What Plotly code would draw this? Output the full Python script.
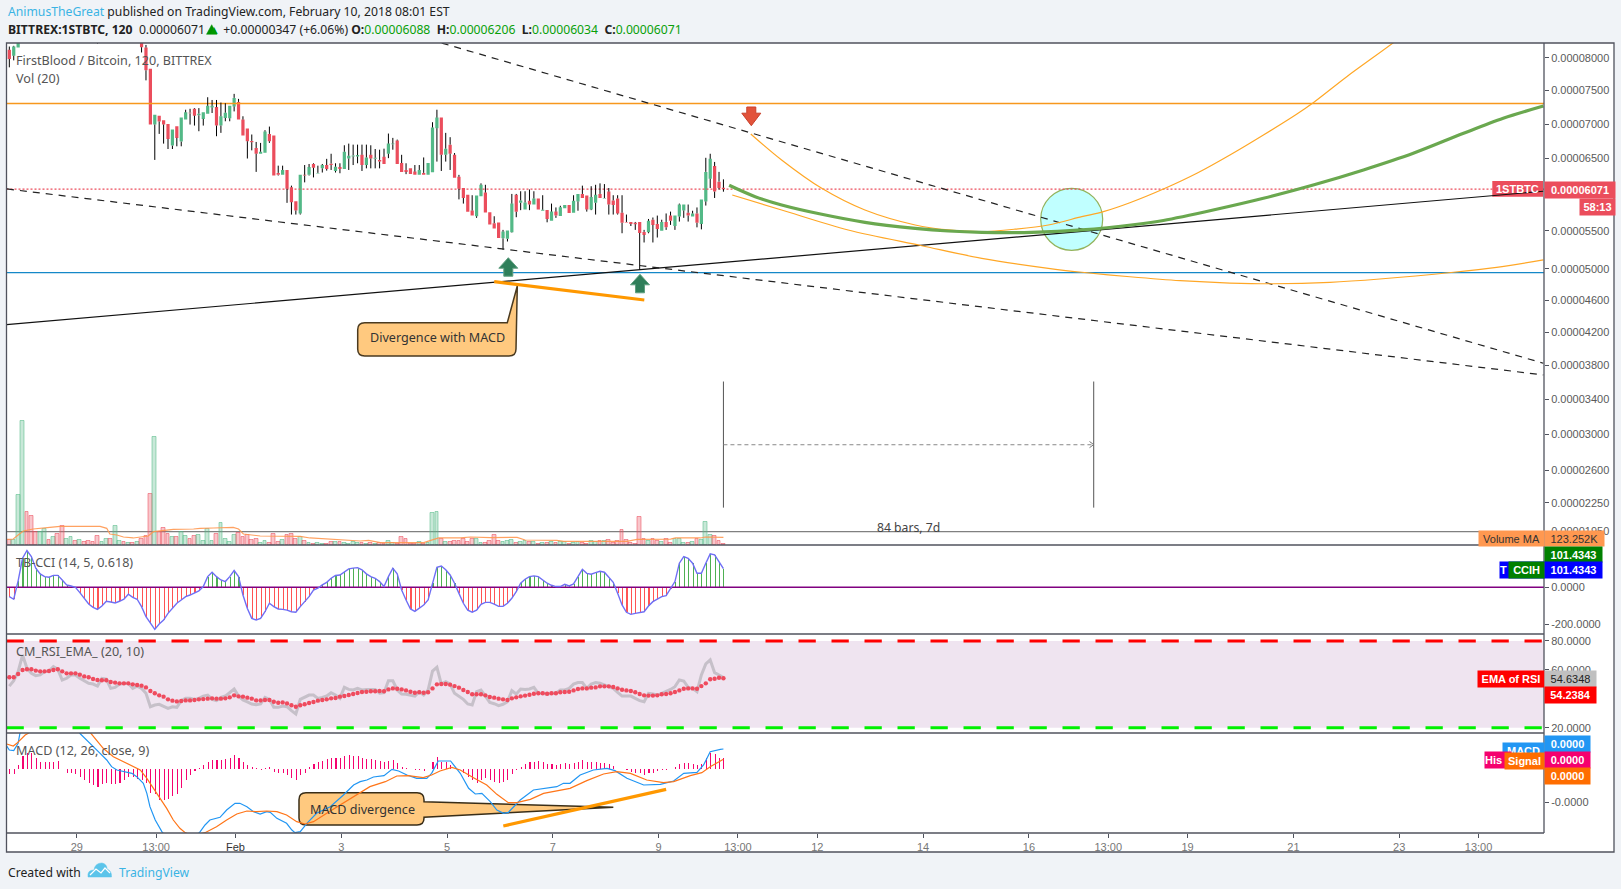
import plotly.graph_objects as go

W, H = 1621, 889

# ---------- price data, in units of 0.00000001 BTC ----------
opens = [8127,8035,8163,8280,9200,8950,8800,8750,8850,8950,
8880,8950,8870,8700,8760,8800,8720,8770,8660,8550,
8470,8320,8450,8520,8430,8650,8690,8600,8650,8540,
8600,8163,7835,6993,7124,7056,7002,6686,6968,6744,
7066,7168,7226,7129,7076,7153,7246,7251,6978,7090,
7085,7261,7329,7066,6934,6754,6652,6569,6584,6856,
6832,6297,6269,6338,6095,5903,5734,6269,6269,6423,
6288,6361,6408,6428,6324,6379,6352,6501,6530,6530,
6554,6408,6554,6496,6481,6525,6569,6705,6759,6437,
6338,6361,6315,6269,6297,6269,6306,6939,7095,6554,
6700,6554,6242,6085,5990,5775,5697,5970,6022,5752,
5603,5612,5400,5393,5482,5990,5880,5790,5908,5857,
5940,5772,5781,5635,5760,5700,5805,5850,5745,5899,
6003,5980,5790,5880,6003,5940,6035,5913,5940,5745,
5620,5620,5608,5620,5486,5482,5650,5593,5500,5620,
5706,5565,5693,5775,5745,5693,5735,5593,5899,6215,
6393,6174,6088]
highs = [8179,8190,8300,9300,9300,9050,8900,8900,9000,8980,
9000,8980,8900,8800,8850,8820,8800,8790,8680,8580,
8490,8500,8560,8540,8700,8720,8700,8680,8660,8620,
8620,8204,7835,7139,7124,7056,7002,6920,6968,7095,
7212,7226,7236,7236,7173,7399,7358,7358,7319,7309,
7270,7450,7374,7115,6934,6847,6739,6725,6910,6963,
6832,6399,6399,6338,6118,5903,6269,6408,6423,6433,
6399,6423,6496,6569,6433,6433,6691,6715,6700,6700,
6700,6700,6691,6637,6627,6642,6861,6798,6773,6554,
6433,6361,6408,6408,6516,6437,7027,7212,7095,6871,
6808,6579,6269,6085,5990,5985,5980,6150,6130,5752,
5697,5612,5513,5505,6003,6003,6040,6040,6065,6040,
5940,5985,5781,5870,5817,5840,5850,5850,5985,6003,
6118,5980,6110,6130,6150,6140,6085,5985,5985,5985,
5720,5620,5620,5620,5513,5660,5680,5706,5650,5735,
5760,5706,5870,5857,5857,5772,5817,5925,6511,6569,
6452,6311,6206]
lows = [7855,7963,8163,8250,8900,8750,8700,8700,8800,8850,
8850,8850,8650,8680,8740,8700,8690,8640,8520,8440,
8225,8300,8420,8400,8410,8620,8580,8590,8520,8530,
8086,7655,6993,6481,6856,6715,6637,6637,6676,6676,
7066,6993,6978,6895,6978,7153,7163,6822,6871,7041,
7041,7187,7066,6832,6501,6618,6311,6569,6584,6725,
6260,6260,6269,5880,5720,5720,5720,6164,6260,6233,
6288,6302,6329,6338,6302,6292,6352,6338,6408,6433,
6324,6361,6361,6361,6361,6423,6506,6627,6423,6311,
6279,6283,6269,6269,6269,6269,6306,6457,6324,6457,
6338,6229,5928,5870,5757,5706,5675,5970,5748,5585,
5530,5403,5249,5358,5477,5684,5780,5790,5780,5857,
5790,5772,5615,5635,5675,5700,5805,5740,5745,5772,
5947,5760,5780,5720,5947,5940,5720,5720,5720,5468,
5612,5565,5513,4985,5345,5468,5345,5411,5500,5513,
5580,5513,5625,5675,5625,5693,5547,5520,5843,6085,
5947,6065,6034]
closes = [7984,8179,8280,9200,8950,8800,8750,8850,8950,8880,
8950,8870,8700,8760,8800,8720,8770,8660,8550,8470,
8320,8450,8520,8430,8650,8690,8600,8650,8540,8600,
8168,7809,6993,7139,7037,6993,6783,6920,6798,7095,
7173,7158,7124,7153,7173,7270,7270,6978,7115,7168,
7270,7389,7066,6832,6749,6735,6569,6598,6890,6749,
6260,6269,6338,6075,5889,5775,6269,6260,6379,6370,
6297,6408,6352,6408,6384,6352,6598,6540,6545,6550,
6408,6516,6501,6511,6457,6423,6715,6715,6423,6311,
6311,6283,6269,6338,6269,6437,6949,7095,6554,6642,
6569,6229,6075,5947,5757,5706,5980,6130,5748,5585,
5530,5403,5490,5505,5870,5757,5913,5885,5857,5940,
5790,5786,5660,5760,5706,5820,5850,5740,5908,6003,
5947,5790,5960,5990,5947,5947,5857,5850,5735,5608,
5612,5593,5590,5472,5446,5635,5580,5525,5620,5547,
5635,5706,5857,5857,5706,5735,5608,5925,6311,6496,
6035,6085,6071]

# volume, thousands
volumes = [80,75,804,1994,531,466,214,204,257,80,
129,177,300,96,129,64,75,43,64,48,
145,43,96,96,306,64,48,32,32,48,
96,145,820,1737,209,273,177,129,129,209,
145,96,145,161,64,257,64,177,348,96,
48,161,193,129,161,80,96,27,64,32,
177,48,80,161,177,96,134,64,32,16,
32,16,16,48,48,48,32,16,48,32,
27,16,27,16,38,21,64,32,16,129,
91,16,16,54,21,38,509,525,96,43,
43,64,64,96,48,96,96,32,27,64,
161,64,43,64,80,32,48,64,48,48,
16,32,27,48,32,48,48,16,32,48,
32,21,64,48,64,64,80,38,64,241,
80,32,21,450,91,64,91,64,43,91,
32,96,96,32,32,48,96,80,370,161,
145,64,21]
vol_ma_bar = [-0.6,0.9,2.0,3.2,5.4,7.7,9.2,11.5,20.6,22.1,22.8,24.4,25.9,28.1,30.4,31.5,32.7,34.2,35.7,37.2,41.8,43.3,46.3,50.8,52.0,53.1,56.9,62.9,66.0,68.2,72.8,75.8,79.6,81.5,84.2,94,95.9,97.4,102.3,104.6,109.1,115.2,117,124.2,125.8,140.1,142.4,150,151.1,156.8,157.9,161.3,162]
vol_ma_val = [91,96,161,225,257,268,284,300,300,268,177,161,129,113,129,145,214,225,236,252,257,268,273,284,257,177,145,145,139,113,91,75,64,75,38,38,80,113,113,129,118,123,80,75,59,59,91,96,113,113,129,123,123]

cci_vals = [-51,-65,35,158,200,167,104,73,58,55,65,65,40,13,7,0,-29,-60,-91,-109,
-120,-102,-76,-80,-85,-76,-65,-38,-55,-65,-105,-160,-196,-229,-200,-178,-142,-115,-87,-69,
-51,-42,-29,-20,4,58,82,58,40,31,58,91,58,-42,-115,-169,-178,-169,-133,-87,
-105,-118,-120,-124,-133,-136,-105,-78,-51,-15,-5,13,27,49,64,67,85,100,104,107,
95,73,58,49,31,4,58,104,73,-15,-69,-118,-131,-115,-96,-69,22,109,116,95,
67,22,-33,-87,-124,-135,-124,-93,-82,-82,-91,-104,-104,-87,-60,-24,22,44,58,62,
58,40,22,11,4,4,16,7,18,58,98,76,71,80,87,82,53,27,-33,-96,
-136,-147,-142,-136,-133,-102,-78,-64,-51,-45,-9,31,131,167,158,131,76,76,131,182,
176,140,101]

rsi_vals = [48.8,52.5,58.8,70.3,61.1,57.6,56.0,56.5,58.8,59.2,62.2,60.4,53.0,54.2,56.5,56.5,54.2,52.5,50.7,50.2,
48.8,54.2,53.7,47.2,47.9,50.2,50.2,50.7,47.2,48.8,47.2,43.8,34.5,35.7,36.2,35.0,33.4,34.5,34.1,38.7,
40.3,40.3,39.6,40.3,41.9,42.6,39.6,38.7,41.0,41.9,44.5,46.8,41.9,39.2,37.8,36.4,35.9,36.4,41.0,39.6,
34.1,34.1,35.0,34.5,31.8,29.5,39.6,41.0,42.6,42.6,40.3,41.0,41.9,44.2,42.6,40.3,47.9,46.5,46.1,47.2,
46.1,46.5,46.5,46.5,43.8,44.2,52.5,52.5,46.1,43.3,43.1,42.4,41.9,44.9,42.6,46.1,59.2,61.8,50.2,51.9,
50.2,43.8,41.9,39.6,36.4,35.7,44.9,46.1,41.9,37.5,36.6,35.2,36.2,38.0,45.6,43.3,46.8,46.5,46.8,47.9,
43.8,43.8,43.1,43.8,43.8,46.1,46.1,47.2,50.2,51.2,51.2,47.2,50.2,51.2,50.7,49.5,48.4,47.2,44.5,41.9,
41.9,41.9,40.3,38.7,38.0,43.8,43.3,42.6,43.8,44.9,46.5,48.4,53.0,52.3,47.9,47.2,44.9,56.5,64.1,66.9,
58.1,56.5,54.63]
rsi_ema = [54.9,54.9,57.2,59.9,60.4,60.4,59.5,59.0,59.0,59.2,59.9,60.4,59.0,57.6,57.6,57.6,56.7,55.5,54.9,53.7,
53.0,52.8,52.8,51.6,51.2,50.7,50.7,50.7,50.0,49.5,49.1,47.9,45.4,43.8,42.4,41.5,39.6,38.7,38.2,38.5,
38.9,38.9,39.2,39.6,39.8,40.1,40.3,40.1,40.1,40.3,41.0,42.4,41.7,41.5,40.8,40.1,38.9,38.9,39.2,39.2,
38.0,37.3,37.5,36.8,35.5,34.5,35.5,36.2,37.1,37.8,38.7,39.2,39.6,40.3,40.5,41.5,41.9,42.6,43.3,44.0,
44.7,44.9,45.2,45.2,45.4,45.2,46.5,47.2,47.0,46.5,45.8,44.9,44.2,44.5,44.2,44.5,47.2,50.0,50.2,50.2,
49.8,48.8,47.7,46.1,44.7,43.1,43.1,43.1,42.4,41.2,40.8,40.1,39.6,39.2,40.3,41.0,41.7,42.2,42.8,43.5,
43.8,43.8,43.5,43.8,43.8,44.5,44.7,44.9,45.8,46.8,47.2,47.2,47.7,47.9,48.6,48.6,48.6,48.2,47.2,46.3,
45.8,45.4,44.5,43.3,42.4,42.2,42.2,42.4,43.1,43.3,43.8,44.7,45.8,47.0,47.2,47.2,47.0,48.8,50.7,53.5,
53.9,54.6,54.24]

# MACD pane, in units of 0.000001
macd_hist = [-.15,-.15,.12,.40,.47,.47,.32,.20,.22,.22,.22,.24,0,-.11,-.11,-.15,-.23,-.33,-.43,-.48,
-.53,-.46,-.43,-.45,-.45,-.41,-.33,-.23,-.25,-.30,-.33,-.43,-.73,-.76,-.93,-.93,-.91,-.81,-.75,-.56,
-.33,-.18,-.06,.03,.11,.22,.27,.27,.27,.30,.34,.42,.32,.22,.12,.07,.02,-.03,.02,.05,
-.10,-.13,-.13,-.18,-.28,-.33,-.18,-.13,.07,.15,.21,.24,.29,.32,.32,.34,.39,.42,.40,.40,
.32,.30,.30,.27,.24,.20,.24,.27,.17,.07,.03,-.01,-.03,-.03,-.05,0,.20,.35,.22,.22,
.12,0,0,-.13,-.23,-.33,-.43,-.33,-.28,-.33,-.38,-.41,-.38,-.33,-.15,-.03,.07,.14,.20,.22,
.25,.22,.15,.15,.12,.15,.17,.15,.17,.22,.26,.22,.21,.21,.19,.17,.15,.09,0,-.01,
-.03,-.09,-.11,-.13,-.18,-.13,-.11,-.06,-.04,-.03,.01,.05,.15,.17,.17,.16,.12,.15,.32,.47,
.45,.32,.32]
macd_bar = [-.6,0,1,2,2.4,5,10,15,16,17.2,18.2,19.4,20.6,22.1,23.2,24.4,26.6,27.8,28.9,30.4,31.2,31.9,33.1,34.6,36,39,41,43.3,44.4,45.5,47.8,49.3,51.2,52.3,53.9,55.4,56.9,58.4,59.2,60.7,62.9,64.1,64.8,66,67.5,69.7,72.8,75.8,78.1,79.6,81.1,82.6,85,86.8,88.3,90.2,92.4,94.7,95.8,97.3,100.1,102.3,104.2,105.7,107.2,109.1,110.6,112.1,113.2,115.9,118.9,121.2,124.2,125.7,127.2,129.5,132.5,135.6,137.4,140.1,143.9,147.7,150.7,153,156,157.5,159,161.3,162]
macd_val = [.69,.57,.55,.77,1.07,1.8,2.0,1.5,1.07,.92,.77,.62,.47,.27,.07,-.03,-.08,-.13,-.23,-.43,-.73,-1.13,-1.53,-1.88,-2.1,-2.4,-2.2,-1.88,-1.68,-1.53,-1.45,-1.23,-1.03,-1.03,-1.13,-1.28,-1.35,-1.28,-1.3,-1.48,-1.63,-1.83,-1.91,-1.88,-1.63,-1.33,-1.13,-.78,-.48,-.38,-.33,-.24,-.2,-.01,-.06,-.18,-.28,-.28,-.13,.24,.24,-.13,-.58,-.75,-.73,-.98,-1.23,-1.33,-1.3,-.93,-.63,-.58,-.53,-.43,-.43,-.18,-.03,.02,-.05,-.28,-.48,-.46,-.36,-.13,-.1,.12,.52,.59,.6]
signal_bar = [-.6,.9,1.7,2.4,3.6,4.3,8,12,16,18.5,19.8,21.3,23.6,25.9,28.1,29.7,31.2,32.7,34.2,35.7,37.2,38.7,39.9,41.5,44.4,47,49.3,51.6,53.9,56.1,58.4,60.7,62.9,65.2,67.1,69,72,75,77.3,79.6,81.8,85.3,87.9,90.5,93.9,95.8,97.7,100.4,102.3,105.3,108.3,110.6,113.2,115.1,118.2,121.2,127.2,131,134.8,137.8,140.9,144.6,148.4,150.7,154.5,157.1,159,161.3,162]
signal_val = [.75,.69,.77,.87,1.02,1.07,1.5,1.7,1.4,1.07,.87,.62,.37,.22,.09,-.03,-.28,-.58,-.88,-1.18,-1.53,-1.78,-1.91,-2.0,-1.91,-1.73,-1.53,-1.35,-1.26,-1.28,-1.26,-1.28,-1.38,-1.58,-1.65,-1.58,-1.33,-1.08,-.88,-.71,-.53,-.38,-.21,-.2,-.26,-.18,-.06,.05,-.03,-.26,-.48,-.76,-1.01,-1.01,-.91,-.73,-.58,-.35,-.15,-.08,-.13,-.33,-.41,-.38,-.2,-.11,.07,.24,.29]

# ---------- drawings on the chart: (bar, price) ----------
support_bar, support_px = [-0.64, 348.0], [4292, 6040]
down1_bar, down1_px = [98.1, 348.0], [8234, 3823]
down2_bar, down2_px = [-0.53, 348.0], [6072, 3684]
arc_a_bar = [168.2,175.2,184.3,194.1,205.5,213.0,220.6,228.1,235.7,243.3,248.2,254.2,262.2,269.4,276.9,284.5,292.1,295.8,303.4,313.8,318]
arc_a_px = [6855,6480,6081,5782,5579,5512,5489,5522,5579,5691,5759,5881,6081,6291,6551,6840,7149,7317,7711,8230,8460]
arc_b_bar = [164.0,175.2,190.3,207.0,220.6,235.7,243.3,254.2,265.6,276.9,286.7,299.6,310.9,327.6,337.4,348.0]
arc_b_px = [5988,5782,5512,5302,5136,5006,4955,4897,4846,4816,4807,4825,4868,4955,5019,5115]
green_bar = [163.3,169.2,175.2,184.3,194.1,205.5,213.0,220.6,231.9,243.3,255.4,261.8,273.1,284.5,295.8,307.2,318.5,329.9,338.9,348.0]
green_px = [6123,5965,5851,5724,5615,5534,5498,5480,5480,5512,5585,5640,5782,5943,6127,6339,6576,6865,7085,7267]
div_bar, div_px = [110.0, 144.05], [4833, 4600]
div_macd_bar, div_macd_val = [112.06, 149.0], [-1.71, -.61]
measure_bars = [162, 246]
measure_px = [3606, 2200, 2882]
level_top, level_blue, level_last, level_grey = 7305, 4951, 6071, 1949

# ---------- axis labels ----------
price_ticks = [8000,7500,7000,6500,6000,5500,5000,4600,4200,3800,3400,3000,2600,2250,1950]
time_ticks = [15.3,33.3,51.3,75.3,99.3,123.3,147.3,165.3,183.3,207.3,231.3,249.3,267.3,291.3,315.3,333.3]
time_labels = ['29','13:00','<span style="color:#333">Feb</span>','3','5','7','9','13:00','12','14','16','13:00','19','21','23','13:00']

PRICE_SHIFT = 10000          # the chart's price scale is a log of (price + shift)
def sp(v):
    return [None if a is None else a + PRICE_SHIFT for a in v]
def fx(x): return x / W
def fy(y): return 1 - y / H

RED, GREEN = '#EB4D5C', '#53B987'
AX_L, AX_R = 6.5, 1544
n = len(closes)
bars = list(range(n))
up = [c >= o for o, c in zip(opens, closes)]
X_RANGE = [-0.64, 348.15]

fig = go.Figure()

def line(x, y, yaxis='y', color='#000', width=1, dash='solid', opacity=1, spline=False):
    fig.add_trace(go.Scatter(x=x, y=y, mode='lines', yaxis=yaxis, opacity=opacity,
                             line=dict(color=color, width=width, dash=dash,
                                       shape='spline' if spline else 'linear', **({'smoothing': 0.9} if spline else {})),
                             hoverinfo='skip', showlegend=False))

# volume
fig.add_trace(go.Bar(x=bars, y=volumes, yaxis='y5', width=0.86, showlegend=False,
    marker=dict(color=['rgba(83,185,135,.32)' if u else 'rgba(235,77,92,.32)' for u in up],
                line=dict(color=['rgba(83,185,135,.55)' if u else 'rgba(235,77,92,.55)' for u in up], width=1))))
line(vol_ma_bar, vol_ma_val, 'y5', '#FF9850', 1.2, opacity=.9)

# levels
line(X_RANGE, sp([level_top]*2), color='#F7981D', width=1.3)
line(X_RANGE, sp([level_blue]*2), color='#1488C8', width=1.2)
line(X_RANGE, sp([level_last]*2), color='#EB4D5C', width=1.2, dash='2px,2px')
line(X_RANGE, sp([level_grey]*2), color='#808080', width=1.2)

# wicks, only outside the bodies (scatter layers draw above candlesticks)
wx, wy = [], []
for i in bars:
    top, bottom = max(opens[i], closes[i]), min(opens[i], closes[i])
    wx += [i, i, None, i, i, None]
    wy += [highs[i], top, None, bottom, lows[i], None]
line(wx, sp(wy), color='#000', width=1)
fig.add_trace(go.Candlestick(x=bars, open=sp(opens), high=sp(highs), low=sp(lows), close=sp(closes),
    increasing=dict(fillcolor=GREEN, line=dict(color=GREEN, width=0)),
    decreasing=dict(fillcolor=RED, line=dict(color=RED, width=0)),
    whiskerwidth=0, showlegend=False, hoverinfo='skip'))

# drawings
line(support_bar, sp(support_px), color='#111', width=1.2)
line(down1_bar, sp(down1_px), color='#222', width=1.2, dash='7px,6px')
line(down2_bar, sp(down2_px), color='#222', width=1.2, dash='7px,6px')
line(arc_a_bar, sp(arc_a_px), color='#FFA726', width=1.2, spline=True)
line(arc_b_bar, sp(arc_b_px), color='#FFA726', width=1.2, spline=True)
line(green_bar, sp(green_px), color='#6AA84F', width=3.2, spline=True)
line(div_bar, sp(div_px), color='#FF9800', width=3.2)
line([measure_bars[0]]*2, sp(measure_px[:2]), color='#555', width=1)
line([measure_bars[1]]*2, sp(measure_px[:2]), color='#555', width=1)
line(measure_bars, sp([measure_px[2]]*2), color='#888', width=1, dash='4px,3px')

# CCI
fig.add_trace(go.Bar(x=bars, y=cci_vals, yaxis='y2', width=0.25, showlegend=False,
    marker=dict(color=['rgba(76,175,80,.99)' if v >= 0 else 'rgba(255,82,82,.99)' for v in cci_vals], line=dict(width=0))))
line(X_RANGE, [0, 0], 'y2', '#800080', 1.4)
line(bars, cci_vals, 'y2', '#6F6FF5', 1.4)

# RSI
line(X_RANGE, [80, 80], 'y3', '#FF0000', 3, '17.3px,15.7px')
line(X_RANGE, [20, 20], 'y3', '#00F000', 3, '17.3px,15.7px')
line(bars, rsi_vals, 'y3', 'rgba(170,168,175,.6)', 3)
fig.add_trace(go.Scatter(x=bars, y=rsi_ema, yaxis='y3', mode='markers', showlegend=False,
    marker=dict(color='#EF4B5E', size=4.4, line=dict(width=0))))

# MACD
fig.add_trace(go.Bar(x=bars, y=macd_hist, yaxis='y4', width=0.25, showlegend=False,
    marker=dict(color='rgba(245,0,110,.99)', line=dict(width=0))))
line(macd_bar, macd_val, 'y4', '#2196F3', 1.2)
line(signal_bar, signal_val, 'y4', '#FF7518', 1.2)
line(div_macd_bar, div_macd_val, 'y4', '#FF9800', 3.2)

# ---------- shapes in page pixels ----------
def rect(x0, y0, x1, y1, fill=None, stroke=None, sw=1, layer='below'):
    return dict(type='rect', xref='paper', yref='paper', x0=fx(x0), x1=fx(x1), y0=fy(y0), y1=fy(y1),
                fillcolor=fill or 'rgba(0,0,0,0)', line=dict(color=stroke or 'rgba(0,0,0,0)', width=sw if stroke else 0), layer=layer)
def seg(x0, y0, x1, y1, color='#50535E', w=1.3):
    return dict(type='line', xref='paper', yref='paper', x0=fx(x0), x1=fx(x1), y0=fy(y0), y1=fy(y1),
                line=dict(color=color, width=w), layer='above')
def path(points, fill, stroke, sw=1, layer='above', close=True):
    parts = []
    for c, *xy in points:
        coords = ' '.join(f'{fx(xy[k]):.5f},{fy(xy[k+1]):.5f}' for k in range(0, len(xy), 2))
        parts.append(f'{c}{coords}')
    return dict(type='path', xref='paper', yref='paper', path=' '.join(parts) + (' Z' if close else ''),
                fillcolor=fill, line=dict(color=stroke, width=sw), layer=layer)

def up_arrow(x, tip):
    return path([('M', x, tip), ('L', x+9.5, tip+10.5), ('L', x+4.5, tip+10.5), ('L', x+4.5, tip+18.5),
                 ('L', x-4.5, tip+18.5), ('L', x-4.5, tip+10.5), ('L', x-9.5, tip+10.5)], '#2F7F5A', '#5F9F80', 1)
def down_arrow(x, tip):
    return path([('M', x, tip), ('L', x+9.5, tip-12.5), ('L', x+4.5, tip-12.5), ('L', x+4.5, tip-18.7),
                 ('L', x-4.5, tip-18.7), ('L', x-4.5, tip-12.5), ('L', x-9.5, tip-12.5)], '#E2533B', '#C9402B', 1)

def callout1():
    L, T, R, B, r = 357.7, 322.7, 516, 356, 7
    return path([('M', L+r, T), ('L', 507.3, T), ('L', 517.3, 286), ('L', R, B-r), ('Q', R, B, R-r, B),
                 ('L', L+r, B), ('Q', L, B, L, B-r), ('L', L, T+r), ('Q', L, T, L+r, T)], '#FFC97F', '#4A3A20', 1.5, 'below')
def callout2():
    L, T, R, B, r = 299, 792.7, 424, 825, 7
    return path([('M', L+r, T), ('L', R-r, T), ('Q', R, T, R, T+r), ('L', R, 801.7), ('L', 613.3, 807.3), ('L', R, 817.3),
                 ('L', R, B-r), ('Q', R, B, R-r, B), ('L', L+r, B), ('Q', L, B, L, B-r), ('L', L, T+r), ('Q', L, T, L+r, T)],
                '#FFC97F', '#3A2E18', 1.5, 'below')

shapes = [
    rect(AX_L, 43, 1614, 852, '#FFFFFF'),
    dict(type='rect', xref='paper', yref='y3', x0=fx(AX_L), x1=fx(AX_R), y0=20, y1=80, fillcolor='#EFE4F0', line=dict(width=0), layer='below'),
    dict(type='circle', xref='paper', yref='paper', x0=fx(1040.7), x1=fx(1102.7), y0=fy(188.3), y1=fy(250.3),
         fillcolor='#C0FFFF', line=dict(color='#93B35C', width=1.2), layer='below'),
    rect(1492.3, 181, 1543, 196.7, '#EB4D5C'),
    callout1(), callout2(),
    up_arrow(508.3, 257.7), up_arrow(640, 274.3), down_arrow(751.3, 125.7),
    path([('M', 1089.5, 441.5), ('L', 1093.7, 444.6), ('L', 1089.5, 447.7)], 'rgba(0,0,0,0)', '#777', 1, close=False),
    path([('M', 211.7, 24.7), ('L', 216.9, 34.3), ('L', 206.5, 34.3)], '#009000', '#009000', 0.5),
    rect(AX_L, 43, 1614, 852, None, '#50535E', 1.3, 'above'),
    seg(AX_R, 43, AX_R, 833),
    seg(AX_L, 545, AX_R, 545), seg(AX_L, 634, AX_R, 634), seg(AX_L, 733, AX_R, 733), seg(AX_L, 833, AX_R, 833),
    # TradingView logo
    path([('M', 88, 877), ('Q', 87, 870, 94, 870), ('Q', 95, 863, 102, 863), ('Q', 107, 864, 107, 869),
          ('Q', 112, 871, 111.5, 877)], '#5BC4EA', '#5BC4EA', 0.5),
    path([('M', 90, 875), ('L', 96, 869), ('L', 101, 873), ('L', 105, 868), ('L', 110, 873)], 'rgba(0,0,0,0)', '#FFFFFF', 1.2, close=False),
]

# ---------- text ----------
SANS = 'Noto Sans'
ARIAL = 'Liberation Sans'
ann = []
def text(x, y, s, size=12, color='#555', family=SANS, anchor='left'):
    ann.append(dict(xref='paper', yref='paper', x=fx(x), y=fy(y), text=s, showarrow=False, xanchor=anchor, yanchor='middle',
                    font=dict(family=family, size=size, color=color), align='left'))
def tag(x0, y0, x1, y1, s, bg, fg='#FFFFFF', size=11, pad=0, align='center'):
    ann.append(dict(xref='paper', yref='paper', x=fx(x0), y=fy(y0), text=s, showarrow=False, xanchor='left', yanchor='top',
                    width=x1 - x0, height=y1 - y0, bgcolor=bg, borderpad=pad, align=align, valign='middle',
                    font=dict(family=ARIAL, size=size, color=fg)))

text(5.5, 11.7, '<span style="color:#3BB3E4">AnimusTheGreat</span> published on TradingView.com, February 10, 2018 08:01 EST', 12.2, '#222')
G = '#09A009'
SP = '&nbsp; '
text(5.5, 29.3, f'<b>BITTREX:1STBTC, 120</b>  0.00006071 <span style="color:#090">▲</span> +0.00000347 (+6.06%) <b>O:</b><span style="color:{G}">0.00006088</span>{SP}<b>H:</b><span style="color:{G}">0.00006206</span>{SP}<b>L:</b><span style="color:{G}">0.00006034</span>{SP}<b>C:</b><span style="color:{G}">0.00006071</span>', 12.2, '#222')
text(13.5, 60.3, 'FirstBlood / Bitcoin, 120, BITTREX', 12.6)
text(13.5, 78, 'Vol (20)', 12.6)
text(13.5, 562.7, 'TB-CCI (14, 5, 0.618)', 12.6)
text(13.5, 651.7, 'CM_RSI_EMA_ (20, 10)', 12.6)
text(13.5, 750.7, 'MACD (12, 26, close, 9)', 12.6)
text(437, 338, 'Divergence with MACD', 12.6, '#333', anchor='center')
text(362.5, 809, 'MACD divergence', 12.6, '#333', anchor='center')
text(908, 527, '84 bars, 7d', 12.2, '#444', anchor='center')
text(5.5, 872.3, 'Created with', 12.2, '#222')
text(117, 872.3, 'TradingView', 12.2, '#3BB3E4')

PR = '#EB4D5C'
text(1517.6, 189, '<b>1STBTC</b>', 11, '#FFFFFF', ARIAL, 'center')
tag(1544, 181, 1614, 196.7, '<b>0.00006071</b>', PR)
tag(1579, 197.5, 1614, 213.7, '<b>58:13</b>', PR)
tag(1478, 530, 1543, 545, 'Volume MA', '#FF9850', '#333')
tag(1544, 530, 1602.7, 545, '123.252K', '#FF9850', '#333')
tag(1544, 545.7, 1601, 561, '<b>101.4343</b>', '#008000')
tag(1499, 561, 1543, 576.7, '<b>T</b>', '#0000FF', align='left', pad=0)
tag(1544, 561, 1601, 576.7, '<b>101.4343</b>', '#0000FF')
tag(1507.7, 561, 1543, 576.7, '<b>CCIH</b>', '#008000')
tag(1477, 670, 1543, 686, '<b>EMA of RSI</b>', '#FF0000')
tag(1544, 670, 1595, 686, '54.6348', '#C0C0C0', '#222')
tag(1544, 686, 1595, 701.7, '<b>54.2384</b>', '#FF0000')
tag(1502, 742.3, 1543, 758, '<b>MACD</b>', '#2196F3')
tag(1544, 735, 1589, 751, '<b>0.0000</b>', '#2196F3')
tag(1484, 751, 1510, 767, '<b>His</b>', '#F5006E', align='left')
tag(1544, 751, 1589, 767, '<b>0.0000</b>', '#F5006E')
tag(1504, 751.7, 1543, 768, '<b>Signal</b>', '#FF6D00')
tag(1544, 767, 1589, 782.7, '<b>0.0000</b>', '#FF6D00')

def dom(top, bottom):
    return [fy(bottom), fy(top)]

tick = dict(ticks='outside', ticklen=4, tickwidth=1, tickcolor='#50535E', showgrid=False, zeroline=False,
            showline=False, side='right', anchor='x',
            tickfont=dict(family=ARIAL, size=11, color='#5A5A5A'), automargin=False, fixedrange=True)

fig.update_layout(
    width=W, height=H, margin=dict(l=0, r=0, t=0, b=0), autosize=False,
    paper_bgcolor='#F0F3F7', plot_bgcolor='rgba(0,0,0,0)', barmode='overlay', bargap=0,
    showlegend=False, hovermode=False, boxgap=0.27, boxgroupgap=0, dragmode=False,
    shapes=shapes, annotations=ann,
    xaxis=dict(domain=[fx(AX_L), fx(AX_R)], range=X_RANGE, anchor='y4', side='bottom', rangeslider=dict(visible=False),
               tickmode='array', tickvals=time_ticks, ticktext=time_labels, ticks='outside', ticklen=4, tickcolor='#50535E',
               showgrid=False, zeroline=False, showline=False, fixedrange=True,
               tickfont=dict(family=ARIAL, size=11, color='#777')),
    yaxis=dict(domain=dom(43, 545), type='log', range=[4.07232, 4.26090], tickmode='array',
               tickvals=sp(price_ticks), ticktext=[f'0.{p:08d}' for p in price_ticks], **tick),
    yaxis5=dict(domain=dom(43, 545), range=[0, 8072], overlaying='y', visible=False, anchor='x', side='right'),
    yaxis2=dict(domain=dom(545, 634), range=[-254, 230], tickmode='array', tickvals=[0, -200], ticktext=['0.0000', '-200.0000'], **tick),
    yaxis3=dict(domain=dom(634, 733), range=[16.33, 84.84], tickmode='array', tickvals=[80, 60, 40, 20],
                ticktext=['80.0000', '60.0000', '40.0000', '20.0000'], **tick),
    yaxis4=dict(domain=dom(733, 833), range=[-1.92, 1.08], tickmode='array', tickvals=[0, -1], ticktext=['0.0000', '-0.0000'], **tick),
)

fig.write_html('out.html', config=dict(displayModeBar=False),
               post_script="document.body.style.margin='0';document.body.style.overflow='hidden';")
